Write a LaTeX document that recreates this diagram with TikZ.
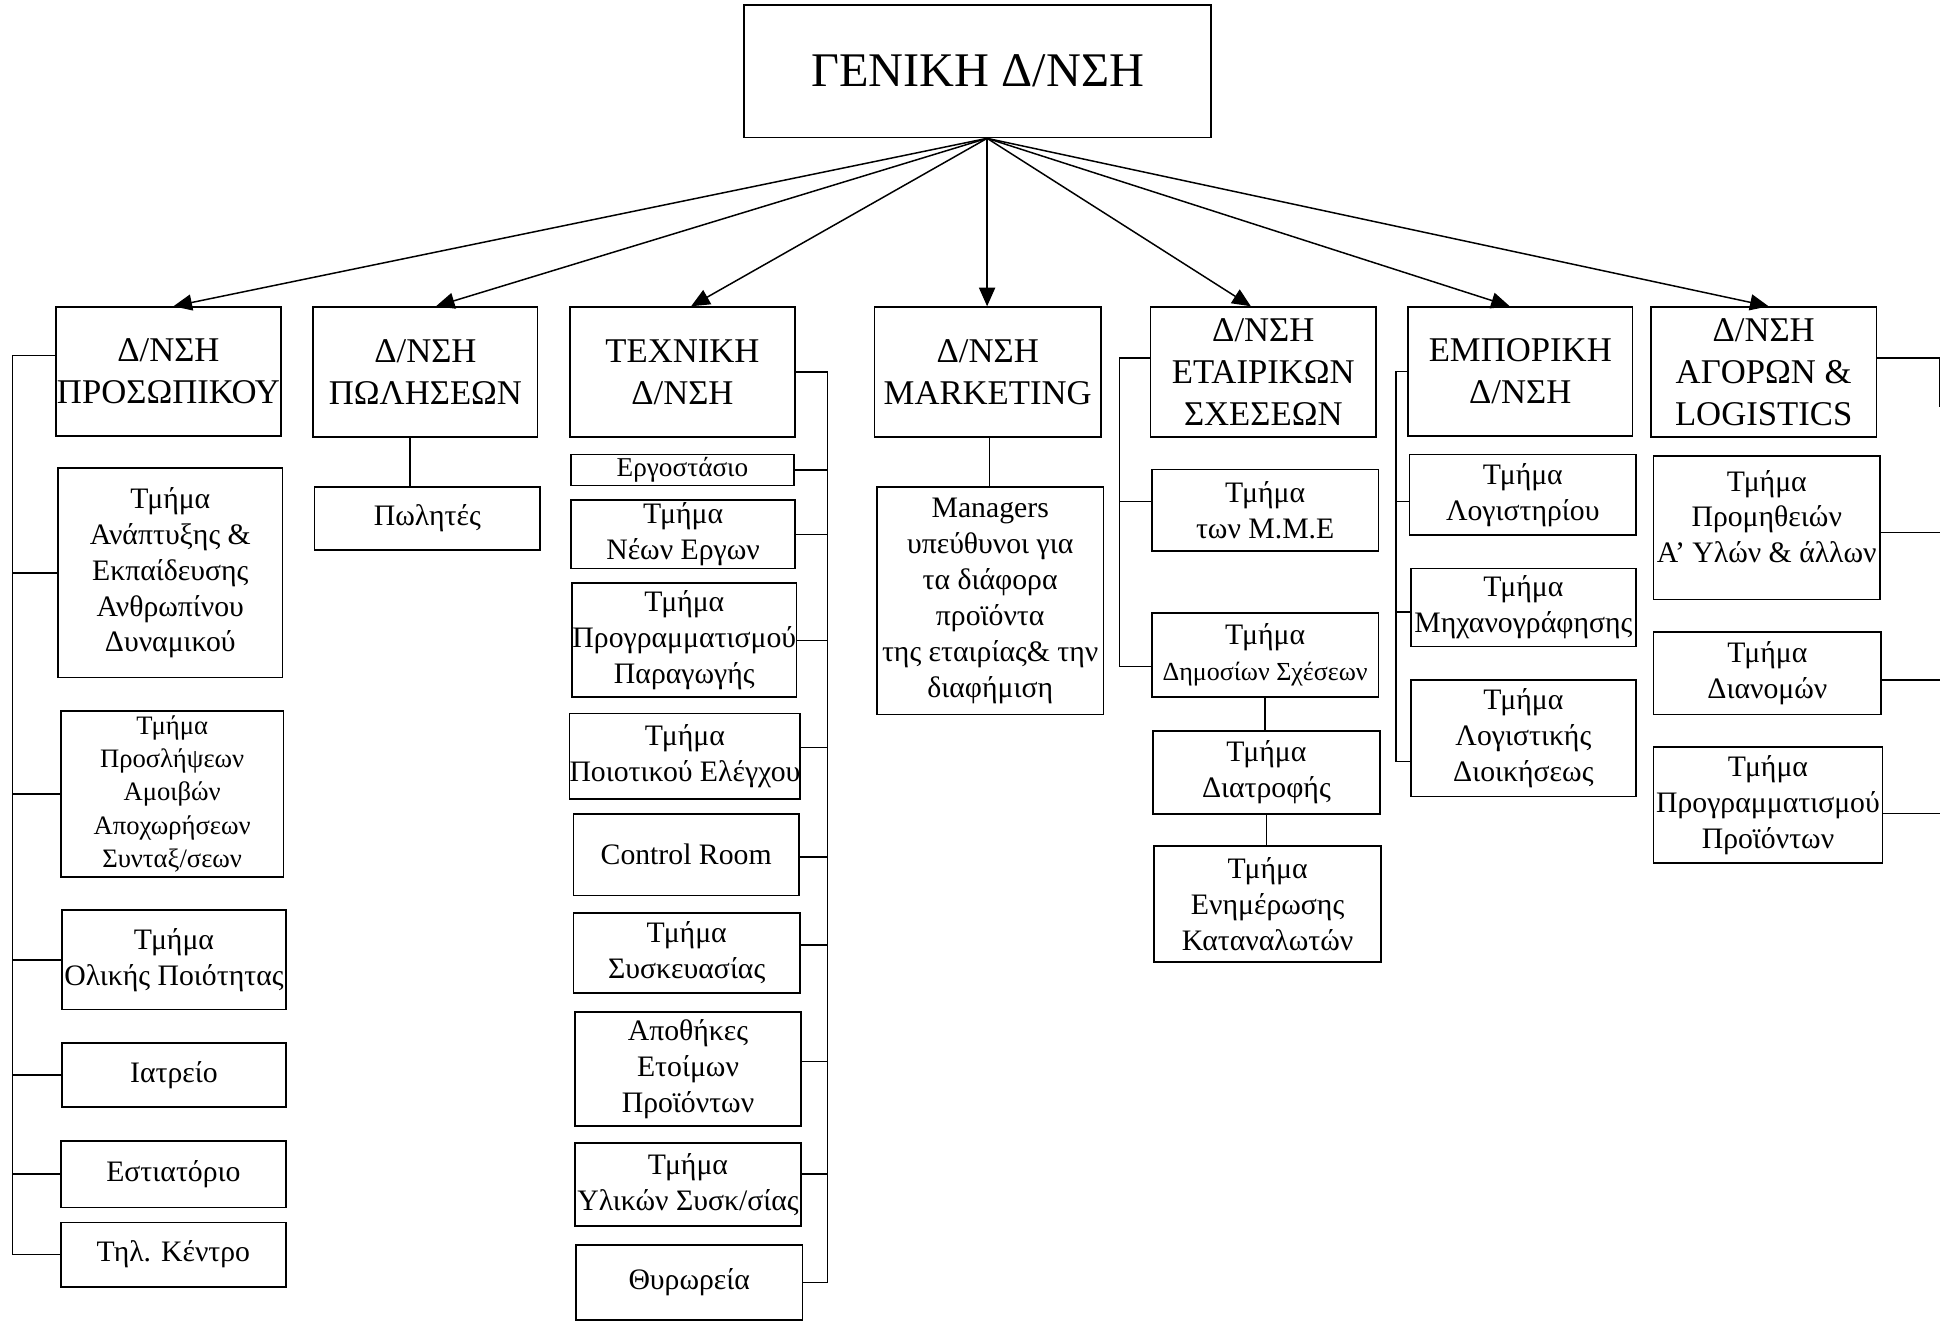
\documentclass[tikz,border=0pt]{standalone}
\usepackage{fontspec}
\setmainfont{Liberation Serif}
\usetikzlibrary{arrows.meta}
\tikzset{
  box/.style={draw, line width=1.4pt, inner sep=0pt, align=center, fill=white},
  lvtop/.style={box, font=\fontsize{39}{45}\selectfont},
  lvtwo/.style={box, font=\fontsize{28}{34}\selectfont},
  lvthree/.style={box, font=\fontsize{24}{29}\selectfont},
  lvsmall/.style={box, font=\fontsize{21.5}{27}\selectfont},
  conn/.style={line width=1.2pt},
  arr/.style={line width=1.2pt, -{Triangle[length=15pt,width=13pt]}},
}
\newcommand{\bx}[7]{\node[#1, minimum width=#4pt, minimum height=#5pt] (#2) at (#3,#6) {#7};}
\begin{document}
\begin{tikzpicture}[x=1pt,y=-1pt]
\useasboundingbox[fill=white] (0,0) rectangle (1568,1067);
% top
\bx{lvtop}{G}{789.5}{377}{107}{57.5}{ΓΕΝΙΚΗ Δ/ΝΣΗ}
% level 2
\bx{lvtwo}{P1}{136}{182}{104}{300}{Δ/ΝΣΗ\\ΠΡΟΣΩΠΙΚΟΥ}
\bx{lvtwo}{P2}{343.5}{181}{105}{300.5}{Δ/ΝΣΗ\\ΠΩΛΗΣΕΩΝ}
\bx{lvtwo}{P3}{551}{182}{105}{300.5}{ΤΕΧΝΙΚΗ\\Δ/ΝΣΗ}
\bx{lvtwo}{P4}{797.5}{183}{105}{300.5}{Δ/ΝΣΗ\\MARKETING}
\bx{lvtwo}{P5}{1020}{182}{105}{300.5}{Δ/ΝΣΗ\\ΕΤΑΙΡΙΚΩΝ\\ΣΧΕΣΕΩΝ}
\bx{lvtwo}{P6}{1227.5}{181}{104}{300}{ΕΜΠΟΡΙΚΗ\\Δ/ΝΣΗ}
\bx{lvtwo}{P7}{1424}{182}{105}{300.5}{Δ/ΝΣΗ\\ΑΓΟΡΩΝ \&\\LOGISTICS}
% column 1
\bx{lvthree}{A1}{137.5}{181}{169}{462.5}{Τμήμα\\Ανάπτυξης \&\\Εκπαίδευσης\\Ανθρωπίνου\\Δυναμικού}
\bx{lvsmall}{A2}{139}{180}{134}{641}{Τμήμα\\Προσλήψεων\\Αμοιβών\\Αποχωρήσεων\\Συνταξ/σεων}
\bx{lvthree}{A3}{140.5}{181}{80}{775}{Τμήμα\\Ολικής Ποιότητας}
\bx{lvthree}{A4}{140.5}{181}{52}{868}{Ιατρείο}
\bx{lvthree}{A5}{140}{182}{54}{948}{Εστιατόριο}
\bx{lvthree}{A6}{140}{182}{52}{1013}{Τηλ. Κέντρο}
% column 2
\bx{lvthree}{S1}{345}{182}{51}{418.5}{Πωλητές}
% column 3
\bx{lvthree}{B1}{551}{180}{25}{379.5}{\fontsize{22}{26}\selectfont Εργοστάσιο}
\bx{lvthree}{B2}{551.5}{181}{55}{431.5}{Τμήμα\\Νέων Εργων}
\bx{lvthree}{B3}{552.5}{181}{92}{517}{Τμήμα\\Προγραμματισμού\\Παραγωγής}
\bx{lvthree}{B4}{553}{182}{69}{610.5}{Τμήμα\\Ποιοτικού Ελέγχου}
\bx{lvthree}{B5}{554}{182}{66}{690}{Control Room}
\bx{lvthree}{B6}{554.5}{183}{65}{769.5}{Τμήμα\\Συσκευασίας}
\bx{lvthree}{B7}{555.5}{183}{92}{863}{Αποθήκες\\Ετοίμων\\Προϊόντων}
\bx{lvthree}{B8}{555.5}{183}{67}{956.5}{Τμήμα\\Υλικών Συσκ/σίας}
\bx{lvthree}{B9}{556.5}{183}{61}{1035.5}{Θυρωρεία}
% column 4
\bx{lvthree}{M1}{799.5}{183}{184}{485}{Managers\\υπεύθυνοι για\\τα διάφορα\\προϊόντα\\της εταιρίας\& την\\διαφήμιση}
% column 5
\bx{lvthree}{C1}{1021.5}{183}{66}{412}{Τμήμα\\των Μ.Μ.Ε}
\bx{lvthree}{C2}{1021.5}{183}{68}{529}{Τμήμα\\{\fontsize{21}{28}\selectfont Δημοσίων Σχέσεων}}
\bx{lvthree}{C3}{1022.5}{183}{67}{623.5}{Τμήμα\\Διατροφής}
\bx{lvthree}{C4}{1023.5}{183}{94}{730}{Τμήμα\\Ενημέρωσης\\Καταναλωτών}
% column 6
\bx{lvthree}{D1}{1229.5}{183}{65}{399.5}{Τμήμα\\Λογιστηρίου}
\bx{lvthree}{D2}{1230}{182}{63}{490.5}{Τμήμα\\Μηχανογράφησης}
\bx{lvthree}{D3}{1230}{182}{94}{596}{Τμήμα\\Λογιστικής\\Διοικήσεως}
% column 7
\bx{lvthree, text depth=18pt}{E1}{1426.5}{183}{116}{426}{Τμήμα\\Προμηθειών\\Α’ Υλών \& άλλων}
\bx{lvthree}{E2}{1427}{184}{67}{543.5}{Τμήμα\\Διανομών}
\bx{lvthree}{E3}{1427.5}{185}{94}{650}{Τμήμα\\Προγραμματισμού\\Προϊόντων}

% arrows from top
\coordinate (src) at ([xshift=7.5pt]G.south);
\draw[arr] (src) -- ([xshift=4pt]P1.north);
\draw[arr] (src) -- ([xshift=8.5pt]P2.north);
\draw[arr] (src) -- ([xshift=7pt]P3.north);
\draw[arr] (src) -- ([xshift=-0.5pt]P4.north);
\draw[arr] (src) -- ([xshift=-10pt]P5.north);
\draw[arr] (src) -- ([xshift=-8.5pt]P6.north);
\draw[arr] (src) -- ([xshift=4pt]P7.north);

% column 1 bus
\coordinate (p1) at ([yshift=13pt]P1.west);
\coordinate (b1) at (10,287);
\draw[conn] (p1) -- (b1) -- (b1 |- A6.west) -- (A6.west);
\foreach \n in {A1,A2,A3,A4,A5} \draw[conn] (\n.west) -- (b1 |- \n.west);

% column 2
\coordinate (p2) at ([xshift=-12.5pt]P2.south);
\draw[conn] (p2) -- (p2 |- S1.north);

% column 3 bus
\coordinate (b3) at (668,300);
\draw[conn] (P3.east) -- (b3 |- P3.east) -- (b3 |- B9.east) -- (B9.east);
\coordinate (t4) at ([yshift=7pt]B4.east);
\coordinate (t5) at ([yshift=-2pt]B5.east);
\coordinate (t6) at ([yshift=6.5pt]B6.east);
\coordinate (t7) at ([yshift=6pt]B7.east);
\coordinate (t8) at ([yshift=8.5pt]B8.east);
\foreach \n in {B1,B2,B3} \draw[conn] (\n.east) -- (b3 |- \n.east);
\foreach \n in {t4,t5,t6,t7,t8} \draw[conn] (\n) -- (b3 |- \n);

% column 4
\coordinate (p4) at ([xshift=1.5pt]P4.south);
\draw[conn] (p4) -- (p4 |- M1.north);

% column 5 bus
\coordinate (p5) at ([yshift=11.5pt]P5.west);
\coordinate (c1) at ([yshift=7pt]C1.west);
\coordinate (c2) at ([yshift=-9pt]C2.west);
\coordinate (b5) at (904,289);
\draw[conn] (p5) -- (b5) -- (b5 |- c2) -- (c2);
\draw[conn] (c1) -- (b5 |- c1);
\draw[conn] (C2.south) -- (C2.south |- C3.north);
\draw[conn] (C3.south) -- (C3.south |- C4.north);

% column 6 bus
\coordinate (d1) at ([yshift=-5.5pt]D1.west);
\coordinate (d2) at ([yshift=-3.5pt]D2.west);
\coordinate (d3) at ([yshift=-19pt]D3.west);
\coordinate (b6) at (1127,300);
\draw[conn] (P6.west) -- (b6) -- (b6 |- d3) -- (d3);
\foreach \n in {d1,d2} \draw[conn] (\n) -- (b6 |- \n);

% column 7 bus (at right edge)
\coordinate (p7) at ([yshift=11.5pt]P7.east);
\coordinate (e1) at ([yshift=-4pt]E1.east);
\coordinate (e2) at ([yshift=-5.5pt]E2.east);
\coordinate (e3) at ([yshift=-7pt]E3.east);
\coordinate (b7) at (1566,289);
\draw[conn] (p7) -- (b7) -- ++(0,40);
\foreach \n in {e1,e2,e3} \draw[conn] (\n) -- (b7 |- \n);
\end{tikzpicture}
\end{document}
